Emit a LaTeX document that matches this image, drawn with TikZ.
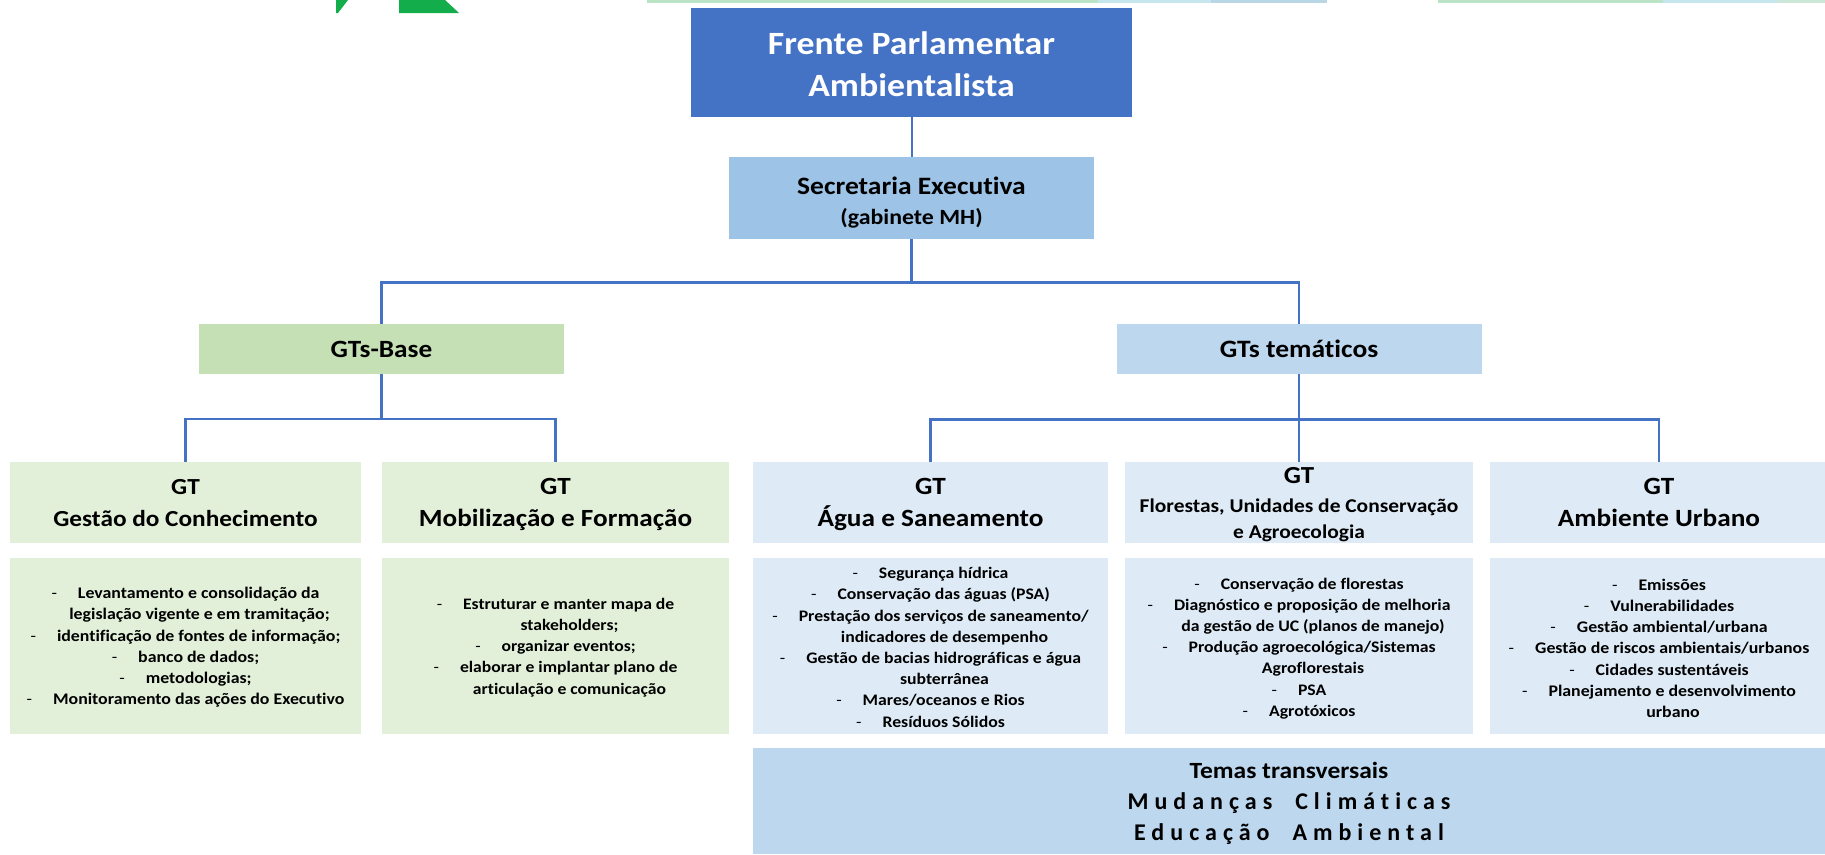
\documentclass[tikz,border=0pt]{standalone}
\usepackage{fontspec}
\setmainfont[FakeStretch=1.1,Ligatures=CommonOff]{Carlito}
\newfontfamily\spacedfont[LetterSpace=25,Ligatures=CommonOff]{Carlito}
\usetikzlibrary{calc}
\definecolor{titleblue}{HTML}{4472C4}
\definecolor{secblue}{HTML}{9DC3E6}
\definecolor{basegreen}{HTML}{C5E0B4}
\definecolor{palegreen}{HTML}{E2F0D9}
\definecolor{themeblue}{HTML}{BDD7EE}
\definecolor{paleblue}{HTML}{DEEBF7}
\definecolor{logogreen}{HTML}{14AD4B}
\definecolor{stripgreen}{HTML}{BBE3C5}
\definecolor{stripcyan}{HTML}{C6E6EE}
\definecolor{stripgray}{HTML}{B9D6E4}
\definecolor{strippale}{HTML}{CDE8D8}
\newcommand{\dashline}[1]{{\mdseries -}\hspace{21pt}#1}
\newcommand{\contline}[1]{\hspace*{28pt}#1}
\newcommand{\toprule}[1]{\rule{0pt}{#1pt}}
\tikzset{
	% One style per row of the chart
	box/.style={rectangle,inner sep=0,align=center,font=\bfseries},
	title box/.style={box,fill=titleblue,text=white,minimum width=441,minimum height=109,font=\fontsize{32.5}{42}\selectfont\bfseries},
	sec box/.style={box,fill=secblue,minimum width=365,minimum height=82,font=\fontsize{25}{30}\selectfont\bfseries},
	group box/.style={box,minimum width=365,minimum height=50,font=\fontsize{#1}{24}\selectfont\bfseries},
	head box/.style={box,minimum height=81,font=\fontsize{#1}{32}\selectfont\bfseries},
	list box/.style={box,minimum height=176,font=\fontsize{#1}{21.2}\selectfont\bfseries},
	link/.style={draw=titleblue,line width=2.4}
}
\begin{document}
\begin{tikzpicture}[x=1pt,y=-1pt]
	\useasboundingbox (0,0) rectangle (1825,854);
	% Strips cut off at the top edge
	\fill[logogreen] (336,0) -- (348,0) -- (338,13) -- (336,13) -- cycle;
	\fill[logogreen] (399,0) -- (445,0) -- (459,13) -- (399,13) -- cycle;
	\fill[stripgreen] (647,0) rectangle (1098,3);
	\fill[stripcyan] (1098,0) rectangle (1211,3);
	\fill[stripgray] (1211,0) rectangle (1327,3);
	\fill[stripgreen] (1438,0) rectangle (1663,3);
	\fill[stripcyan] (1663,0) rectangle (1777,3);
	\fill[strippale] (1777,0) rectangle (1825,3);
	
	\node(title)[title box] at (911.5,62.5){\toprule{26}Frente Parlamentar\\\smash{Ambientalista}};
	\node(sec)[sec box] at (911.5,198){\toprule{22}Secretaria Executiva\\\smash{\fontsize{21.7}{30}\selectfont (gabinete MH)}};
	\node(base)[group box=24.8,fill=basegreen] at (381.5,349){GTs-Base};
	\node(tema)[group box=25,fill=themeblue] at (1299,349){GTs temáticos};
	
	% Headers of the working groups
	\node(h1)[head box=23,fill=palegreen,minimum width=351] at (185.5,502.5){GT\\\smash{Gestão do Conhecimento}};
	\node(h2)[head box=24.7,fill=palegreen,minimum width=347] at (555.5,502.5){GT\\\smash{Mobilização e Formação}};
	\node(h3)[head box=24.8,fill=paleblue,minimum width=355] at (930.5,502.5){GT\\\smash{Água e Saneamento}};
	\node(h4)[head box=24.5,fill=paleblue,minimum width=348] at (1299,502.5){GT\\[-3pt]\smash{\fontsize{19.5}{26}\selectfont Florestas, Unidades de Conservação}\\[-6pt]\smash{\fontsize{19.5}{26}\selectfont e Agroecologia}};
	\node(h5)[head box=24.8,fill=paleblue,minimum width=338] at (1659,502.5){GT\\\smash{Ambiente Urbano}};
	
	% Lists under each header
	\node(l1)[list box=16.2,fill=palegreen,minimum width=351] at (185.5,646){\toprule{14}\dashline{Levantamento e consolidação da}\\\contline{legislação vigente e em tramitação;}\\\dashline{identificação de fontes de informação;}\\\dashline{banco de dados;}\\\dashline{metodologias;}\\\dashline{Monitoramento das ações do Executivo}};
	\node(l2)[list box=16,fill=palegreen,minimum width=347] at (555.5,646){\toprule{14}\dashline{Estruturar e manter mapa de}\\\contline{stakeholders;}\\\dashline{organizar eventos;}\\\dashline{elaborar e implantar plano de}\\\contline{articulação e comunicação}};
	\node(l3)[list box=16.1,fill=paleblue,minimum width=355] at (930.5,646){\toprule{14}\dashline{Segurança hídrica}\\\dashline{Conservação das águas (PSA)}\\\dashline{Prestação dos serviços de saneamento/}\\\contline{indicadores de desempenho}\\\dashline{Gestão de bacias hidrográficas e água}\\\contline{subterrânea}\\\dashline{Mares/oceanos e Rios}\\\dashline{Resíduos Sólidos}};
	\node(l4)[list box=16.1,fill=paleblue,minimum width=348] at (1299,646){\toprule{16}\dashline{Conservação de florestas}\\\dashline{Diagnóstico e proposição de melhoria}\\\contline{da gestão de UC (planos de manejo)}\\\dashline{Produção agroecológica/Sistemas}\\\contline{Agroflorestais}\\\dashline{PSA}\\\dashline{Agrotóxicos}};
	\node(l5)[list box=16.2,fill=paleblue,minimum width=338] at (1659,646){\toprule{16}\dashline{Emissões}\\\dashline{Vulnerabilidades}\\\dashline{Gestão ambiental/urbana}\\\dashline{Gestão de riscos ambientais/urbanos}\\\dashline{Cidades sustentáveis}\\\dashline{Planejamento e desenvolvimento}\\\contline{urbano}};
	
	\node(band)[box,fill=themeblue,minimum width=1072,minimum height=106,font=\fontsize{23.2}{31}\selectfont\bfseries] at (1289,801){Temas transversais\\{\fontsize{24}{31}\spacedfont\bfseries Mudanças\ \ Climáticas}\\\smash{\fontsize{24}{31}\spacedfont\bfseries Educação\ \ Ambiental}};
	
	\coordinate(bus0) at (911.5,282.5);
	\coordinate(bus1) at (381.5,419);
	\coordinate(bus2) at (1299,419.5);
	
	\draw[link,line width=2] (title.south) -- (sec.north);
	\draw[link] (sec.south) -- (bus0);
	\draw[link] (bus0) -| (base.north);
	\draw[link] (bus0) -| (tema.north);
	\draw[link] (base.south) -- (bus1);
	\draw[link] (bus1) -| (h1.north);
	\draw[link] (bus1) -| (h2.north);
	\draw[link] (tema.south) -- (bus2);
	\draw[link] (bus2) -| (h3.north);
	\draw[link] (bus2) -- (h4.north);
	\draw[link] (bus2) -| (h5.north);
\end{tikzpicture}
\end{document}
